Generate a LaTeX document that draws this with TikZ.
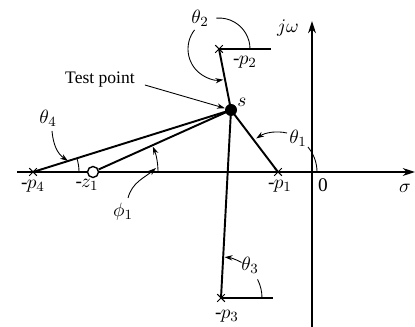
\documentclass[tikz,border=0pt]{standalone}
\usepackage{fontspec}
\setmainfont{Liberation Serif}
\usetikzlibrary{arrows.meta,shapes.misc}
\newcommand{\negp}[1]{\mbox{-}\kern-0.5pt$#1$}
\begin{document}
\begin{tikzpicture}[x=0.02cm,y=0.02cm,
  font=\fontsize{10}{12}\selectfont,
  pole/.style={cross out,draw,minimum size=0.13cm,inner sep=0pt,line width=0.6pt},
  zero/.style={circle,draw,fill=white,minimum size=0.22cm,inner sep=0pt,line width=0.8pt},
  tp/.style={circle,fill=black,minimum size=0.24cm,inner sep=0pt},
  axisline/.style={line width=0.7pt},
  vec/.style={line width=1.1pt},
  ang/.style={line width=0.5pt},
  tip/.style={-{Stealth[length=4.5pt,width=3pt]}},
  lbl/.style={inner sep=1pt},
  mlbl/.style={inner sep=1pt,font=\fontsize{11}{13}\selectfont}]
\useasboundingbox (0,0) rectangle (415,327);
% axes
\coordinate (xl) at (17,155);
\coordinate (xr) at (415,155);
\coordinate (yb) at (312,0);
\coordinate (yt) at (312,306);
\draw[axisline,-{Stealth[length=7pt,width=4.5pt]}] (xl) -- (xr);
\draw[axisline,-{Stealth[length=7pt,width=4.5pt]}] (yb) -- (yt);
% poles, zero, test point
\node[pole] (p1) at (278,155) {};
\node[pole] (p2) at (219,278) {};
\node[pole] (p3) at (221,29) {};
\node[pole] (p4) at (33,155) {};
\node[zero] (z1) at (93,155) {};
\node[tp] (s) at (231,217) {};
% reference horizontals
\coordinate (h2) at (271,278);
\coordinate (h3) at (273,29);
\draw[axisline] (p2.center) -- (h2);
\draw[axisline] (p3.center) -- (h3);
% vectors
\draw[vec] (p1.center) -- (s.center);
\draw[vec] (p2.center) -- (s.center);
\draw[vec] (p3.center) -- (s.center);
\draw[vec] (p4.center) -- (s.center);
\draw[vec] (z1) -- (s.center);
% labels
\node[mlbl] (lp1) at (280,141) {\negp{p_1}};
\node[mlbl] (lp2) at (245,265) {\negp{p_2}};
\node[mlbl] (lp3) at (227,11) {\negp{p_3}};
\node[mlbl] (lp4) at (33,141) {\negp{p_4}};
\node[mlbl] (lz1) at (87,142) {\negp{z_1}};
\node[mlbl] (ls) at (242,225) {$s$};
\node[mlbl] (ljw) at (288,299) {$j\omega$};
\node[mlbl] (l0) at (323,142) {0};
\node[mlbl] (lsig) at (405,139) {$\sigma$};
\node[lbl] (ltp) at (100,247) {Test point};
\node[mlbl] (lt1) at (298,189) {$\theta_1$};
\node[mlbl] (lt2) at (200,309) {$\theta_2$};
\node[mlbl] (lt3) at (250,62) {$\theta_3$};
\node[mlbl] (lt4) at (48,209) {$\theta_4$};
\node[mlbl] (lf1) at (123,115) {$\phi_1$};
% test point arrow
\draw[ang,tip] (ltp.east) ++(8,-5) -- (s);
% theta1
\draw[ang] (p1.center) ++(0:39) arc[start angle=0,end angle=40,radius=39];
\draw[ang,tip] (p1.center) ++(77:40) arc[start angle=77,end angle=123,radius=40];
% theta2
\draw[ang] (p2.center) ++(0:31) arc[start angle=0,end angle=95,radius=31];
\draw[ang,tip] (p2.center) ++(142:31) arc[start angle=142,end angle=278,radius=31];
% theta3
\draw[ang] (p3.center) ++(0:41) arc[start angle=0,end angle=27,radius=41];
\draw[ang,tip] (p3.center) ++(60:41) arc[start angle=60,end angle=85,radius=41];
% theta4
\draw[ang] (p4.center) ++(0:46) arc[start angle=0,end angle=17,radius=46];
\coordinate (t4a) at (52,196);
\coordinate (t4b) at (68,166);
\draw[ang,tip] (t4a) to[out=-85,in=145] (t4b);
% phi1
\draw[ang,tip] (z1.center) ++(0:65) arc[start angle=0,end angle=23,radius=65];
\coordinate (f1a) at (128,129);
\coordinate (f1b) at (156,159);
\draw[ang,tip] (f1a) to[out=75,in=-140] (f1b);
\end{tikzpicture}
\end{document}
